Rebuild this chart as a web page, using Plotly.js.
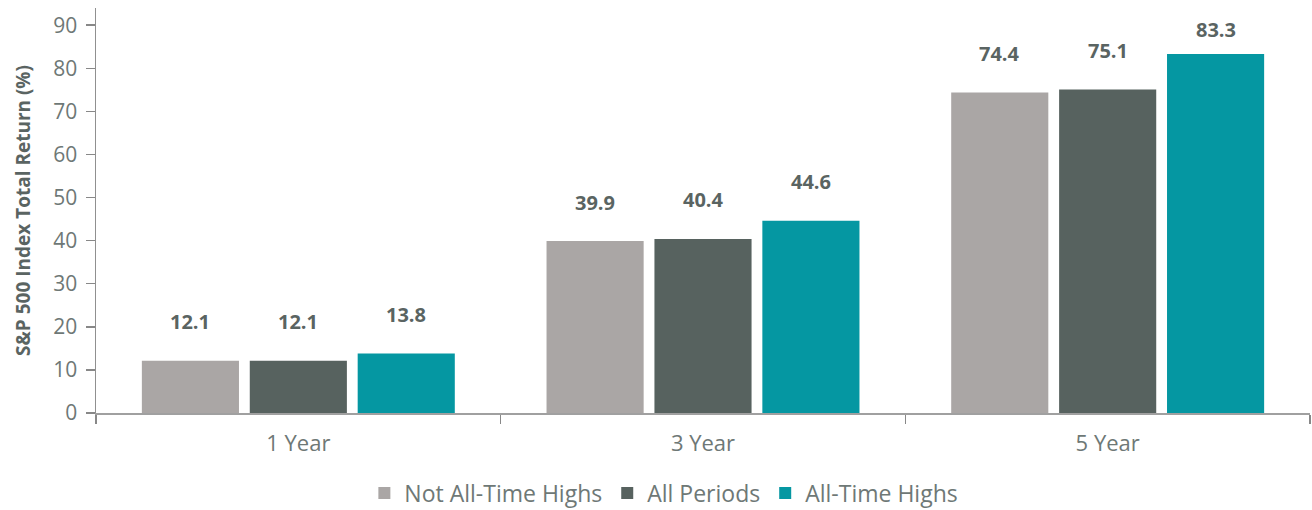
<!DOCTYPE html>
<html><head><meta charset="utf-8">
<script src="https://cdn.plot.ly/plotly-3.0.1.min.js"></script>
<style>html,body{margin:0;padding:0;background:#fff}#chart{width:1312px;height:510px}</style>
</head><body><div id="chart"></div>
<script>
const categories = ["1 Year", "3 Year", "5 Year"];
const seriesNames = ["Not All-Time Highs", "All Periods", "All-Time Highs"];
const notATH = [12.1, 39.9, 74.4];
const allPeriods = [12.1, 40.4, 75.1];
const ath = [13.8, 44.6, 83.3];
const yTicks = [0, 10, 20, 30, 40, 50, 60, 70, 80, 90];
const colors = ["#aaa6a5", "#57625f", "#0597a2"];
const seriesValues = [notATH, allPeriods, ath];

const H = 510, mT = 8, mB = 97, yMax = 94;
const pxPerUnit = (H - mT - mB) / yMax;
const bargap = 0.2, bargroupgap = 0.1;
const traces = seriesValues.map((vals, j) => ({
  type: 'bar', name: seriesNames[j], x: categories, y: vals,
  marker: {color: colors[j]}, hoverinfo: 'none'
}));

const slot = (1 - bargap) / 3;
const annotations = [];
seriesValues.forEach((vals, j) => {
  vals.forEach((v, i) => {
    const shift = Math.min(39, (yMax - v) * pxPerUnit - 22);
    annotations.push({
      x: i + (j - 1) * slot, y: v, xref: 'x', yref: 'y',
      text: v.toFixed(1), showarrow: false, yanchor: 'middle', yshift: shift,
      font: {family: 'Open Sans, Noto Sans, sans-serif', size: 20, color: '#5a6462', weight: 'bold'}
    });
  });
});

const layout = {
  width: 1312, height: H,
  margin: {l: 96, r: 2, t: mT, b: mB, autoexpand: false},
  barmode: 'group', bargap: bargap, bargroupgap: bargroupgap,
  paper_bgcolor: '#fff', plot_bgcolor: '#fff',
  font: {family: 'Open Sans, Noto Sans, sans-serif', color: '#7a8381'},
  xaxis: {
    type: 'category', showline: true, linecolor: '#a0a0a0', linewidth: 1.5,
    ticks: 'outside', tickson: 'boundaries', ticklen: 9, tickcolor: '#888', tickwidth: 1.5,
    tickfont: {size: 22, color: '#6e7876'}, ticklabelstandoff: 10,
    showgrid: false, zeroline: false
  },
  yaxis: {
    range: [0, yMax], tickvals: yTicks, showline: true, linecolor: '#909090', linewidth: 1.5,
    ticks: 'outside', ticklen: 9, tickcolor: '#888', tickwidth: 1.5,
    tickfont: {size: 21, color: '#6e7876'}, ticklabelstandoff: 4,
    showgrid: false, zeroline: false,
    title: {text: 'S&P 500 Index Total Return (%)', standoff: 17,
      font: {size: 19, color: '#5a6462', weight: 'bold'}}
  },
  legend: {orientation: 'h', xref: 'container', x: 0.506, xanchor: 'center', yref: 'container', y: 0.033, yanchor: 'middle',
    font: {size: 23, color: '#6e7876'}, itemwidth: 30, traceorder: 'normal'},
  annotations: annotations,
  showlegend: true
};
Plotly.newPlot('chart', traces, layout, {displayModeBar: false, staticPlot: true});
</script></body></html>
